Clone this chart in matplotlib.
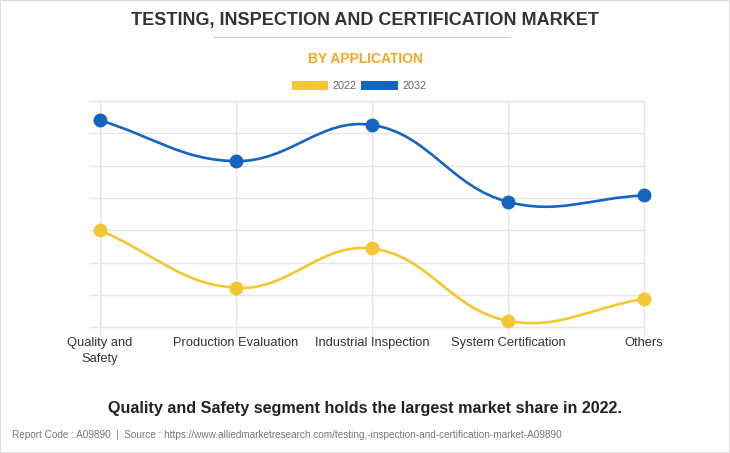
import matplotlib.pyplot as plt
import numpy as np
from matplotlib.path import Path
from matplotlib.patches import PathPatch, Rectangle
from matplotlib.lines import Line2D

categories = ['Quality and\nSafety', 'Production Evaluation', 'Industrial Inspection',
              'System Certification', 'Others']
years = ['2022', '2032']
values_2022 = [150, 61, 122, 10, 44]
values_2032 = [320, 257, 313, 194, 204]
colors = {'2022': '#F4C631', '2032': '#1565C0'}

GRID = '#e6e6e6'
FONT = 'Liberation Sans'


# Chart.js style bezier (tension 0.4) computed in pixel space
def spline_path(ax, xs, ys, tension=0.4):
    pts = ax.transData.transform(np.column_stack([xs, ys]))
    n = len(pts)
    ctrl = []
    for i in range(n):
        prev = pts[i - 1] if i > 0 else pts[i]
        cur = pts[i]
        nxt = pts[i + 1] if i < n - 1 else pts[i]
        d01 = np.hypot(*(cur - prev))
        d12 = np.hypot(*(nxt - cur))
        tot = d01 + d12
        s01 = d01 / tot if tot else 0
        s12 = d12 / tot if tot else 0
        fa = tension * s01
        fb = tension * s12
        ctrl.append((cur - fa * (nxt - prev), cur + fb * (nxt - prev)))
    verts = [pts[0]]
    codes = [Path.MOVETO]
    for i in range(n - 1):
        verts += [ctrl[i][1], ctrl[i + 1][0], pts[i + 1]]
        codes += [Path.CURVE4] * 3
    verts = ax.transData.inverted().transform(np.array(verts))
    return Path(verts, codes)


def main():
    plt.rcParams['font.family'] = [FONT, 'DejaVu Sans']
    fig = plt.figure(figsize=(7.3, 4.53), dpi=100)
    fig.patch.set_facecolor('white')
    fig.patches.append(Rectangle((0, 0), 1, 1, transform=fig.transFigure,
                                 fill=False, edgecolor='#dddddd', linewidth=1.5))

    ax = fig.add_axes([100 / 730, 1 - 327.3 / 453, 544 / 730, 226.3 / 453])
    ax.set_xlim(0, 4)
    ax.set_ylim(0, 350)
    x = np.arange(len(categories))

    ax.set_yticks(np.arange(0, 351, 50))
    ax.set_yticklabels([])
    ax.set_xticks(x)
    ax.set_xticklabels(categories, fontsize=9.3, color='#333333', linespacing=1.45)
    ax.tick_params(axis='y', length=8, color=GRID, width=1)
    ax.tick_params(axis='x', length=6, color=GRID, width=1, pad=1)
    ax.grid(True, color=GRID, linewidth=1)
    ax.set_axisbelow(True)
    for s in ax.spines.values():
        s.set_color(GRID)
        s.set_linewidth(1)

    for year, vals in zip(years, [values_2022, values_2032]):
        path = spline_path(ax, x, vals)
        ax.add_patch(PathPatch(path, facecolor='none', edgecolor=colors[year],
                               linewidth=1.9, clip_on=False, zorder=3))
        ax.plot(x, vals, 'o', color=colors[year], markersize=9, clip_on=False, zorder=4)

    # Titles
    fig.text(0.5, 1 - 20 / 453, 'TESTING, INSPECTION AND CERTIFICATION MARKET',
             ha='center', va='center', fontsize=13, fontweight='bold', color='#333333')
    fig.add_artist(Line2D([213 / 730, 509 / 730], [1 - 37 / 453] * 2,
                          color='#cccccc', linewidth=0.8))
    fig.text(0.5, 1 - 59 / 453, 'BY APPLICATION', ha='center', va='center',
             fontsize=10, fontweight='bold', color='#F5A623')

    # Legend
    handles = [Rectangle((0, 0), 1, 1, facecolor=colors[y], edgecolor='none') for y in years]
    fig.legend(handles, years, loc='center', bbox_to_anchor=(359 / 730, 1 - 86 / 453),
               ncol=2, frameon=False, fontsize=7.8, labelcolor='#666666',
               handlelength=3.4, handleheight=1.0, handletextpad=0.4, columnspacing=0.4)

    fig.text(0.5, 1 - 408 / 453,
             'Quality and Safety segment holds the largest market share in 2022.',
             ha='center', va='center', fontsize=11.6, fontweight='bold', color='#222222')
    fig.text(12 / 730, 1 - 435 / 453,
             'Report Code : A09890  |  Source : https://www.alliedmarketresearch.com/'
             'testing,-inspection-and-certification-market-A09890',
             ha='left', va='center', fontsize=7.2, color='#777777')

    plt.savefig('out.png', dpi=100)


if __name__ == "__main__": main()
